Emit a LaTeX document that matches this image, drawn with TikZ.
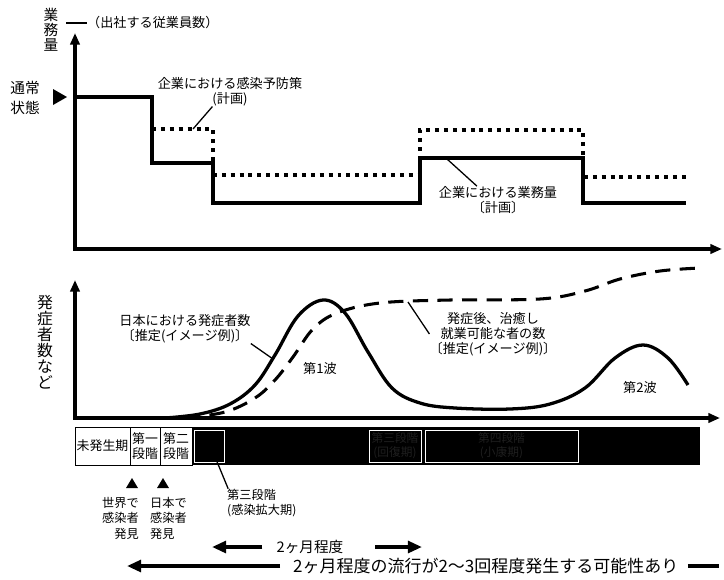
\documentclass[tikz,border=0pt]{standalone}
\usepackage{fontspec}
\setmainfont{Noto Sans CJK JP}
\usetikzlibrary{arrows.meta}
\tikzset{axisline/.style = {line width=3pt, line join=miter, {Triangle[length=10pt,width=8pt]}-{Triangle[length=10pt,width=8pt]}},
         planline/.style = {line width=3.4pt, line join=miter},
         guardline/.style = {line width=2.8pt, dash pattern=on 3.4pt off 4.2pt},
         casecurve/.style = {line width=2.8pt},
         backcurve/.style = {line width=2.6pt, dash pattern=on 13pt off 8pt},
         leader/.style = {line width=1.1pt},
         lbl/.style = {inner sep=0pt, font=\fontsize{11.2}{12.8}\selectfont, align=center},
         small/.style = {inner sep=0pt, font=\fontsize{10.4}{13.2}\selectfont},
         cell/.style = {draw, line width=0.8pt, fill=white, inner sep=0pt, minimum height=1.14cm, align=center, font=\fontsize{11}{12.5}\selectfont},
         darkcell/.style = {draw=white, line width=0.6pt, fill=black, inner sep=0pt, minimum height=0.96cm, align=center, text=white!12!black, font=\fontsize{10}{12}\selectfont},
         spanarrow/.style = {line width=3pt, -{Triangle[length=12pt,width=10pt]}}}

\begin{document}
\begin{tikzpicture}[x=0.03cm,y=-0.03cm]
  \useasboundingbox (0,0) rectangle (724,579);

  % upper graph
  \draw[axisline] (75,33) -- (75,249) -- (722,249);
  \node[lbl, font=\fontsize{12.5}{12.8}\selectfont] (ylab) at (51,30) {業\\務\\量};
  \node[lbl, anchor=west] (ynote) at (87,23) {（出社する従業員数）};
  \coordinate (ytick) at (66,23);
  \draw[leader] (ytick) -- (ynote.west);
  \node[lbl, font=\fontsize{12.5}{17}\selectfont] (normal) at (25,98) {通常\\状態};
  \fill (53,89) -- (53,105) -- (67,97) -- cycle;

  \draw[guardline] (152,129) -- (213,129) -- (213,175) -- (420,175) -- (420,130) -- (583,130) -- (583,177) -- (686,177);
  \draw[planline] (75,97) -- (152,97) -- (152,163) -- (213,163) -- (213,203) -- (420,203) -- (420,158) -- (583,158) -- (583,203) -- (686,203);

  \node[lbl] (prev) at (230,92) {企業における感染予防策\\(計画)};
  \coordinate (prevtip) at (193,129);
  \draw[leader] ([xshift=-15pt]prev.south) -- (prevtip);
  \node[lbl] (work) at (498,200) {企業における業務量\\〔計画〕};
  \coordinate (worktip) at (447,159);
  \draw[leader] ([xshift=-18pt]work.north) -- (worktip);

  % lower graph
  \draw[axisline] (75,280) -- (75,418) -- (720,418);
  \node[lbl, font=\fontsize{13.5}{13.7}\selectfont] (ylow) at (45,342) {発\\症\\者\\数\\な\\ど};

  \draw[casecurve] plot[smooth, tension=0.6] coordinates {(165,418) (200,414) (230,404) (255,385) (275,355) (298,316) (323,300) (345,313) (368,352) (392,388) (420,403) (455,408) (510,409) (550,404) (585,388) (615,358) (643,345) (668,358) (688,385)};
  \draw[backcurve] plot[smooth, tension=0.6] coordinates {(185,418) (225,412) (255,398) (275,380) (293,357) (313,329) (337,313) (380,303) (450,300) (540,299) (585,291) (620,279) (660,271) (700,268)};

  \node[lbl] (cases) at (185,329) {日本における発症者数\\〔推定(イメージ例)〕};
  \coordinate (casestip) at (273,359);
  \draw[leader] (cases.south east) -- (casestip);
  \node[lbl] (wave1) at (320,368) {第1波};
  \node[lbl] (wave2) at (640,387) {第2波};
  \node[lbl] (back) at (493,334) {発症後、治癒し\\就業可能な者の数\\〔推定(イメージ例)〕};
  \coordinate (backtip) at (408,302);
  \draw[leader] (back.west) -- (backtip);

  % phases
  \fill (192,427) rectangle (700,465);
  \node[cell, minimum width=1.65cm] (pre) at (102.5,446) {未発生期};
  \node[cell, minimum width=0.9cm] (ph1) at (145,446) {第一\\段階};
  \node[cell, minimum width=0.96cm] (ph2) at (176,446) {第二\\段階};
  \node[darkcell, minimum width=0.9cm] (ph3) at (209,446) {};
  \node[darkcell, minimum width=1.56cm] (ph3b) at (395,446) {第三段階\\(回復期)};
  \node[darkcell, minimum width=4.59cm] (ph4) at (501.5,446) {第四段階\\(小康期)};

  \fill (126,488) -- (138,488) -- (132,478) -- cycle;
  \fill (157,488) -- (169,488) -- (163,478) -- cycle;
  \node[small, align=right, anchor=east] (world) at (139,518) {世界で\\感染者\\発見};
  \node[small, align=left, anchor=west] (japan) at (150,518) {日本で\\感染者\\発見};
  \node[small, align=left, anchor=west] (third) at (227,503) {第三段階\\(感染拡大期)};
  \coordinate (thirdtip) at (213,452);
  \draw[leader] ([xshift=1pt]third.north west) -- (thirdtip);

  % durations
  \node[lbl, font=\fontsize{12.5}{14}\selectfont] (two) at (310,547) {2ヶ月程度};
  \coordinate (twoleft) at (212,547);
  \coordinate (tworight) at (422,547);
  \draw[spanarrow] ([xshift=-12pt]two.west) -- (twoleft);
  \draw[spanarrow] ([xshift=27pt]two.east) -- (tworight);
  \node[lbl, font=\fontsize{14.5}{16}\selectfont, anchor=west] (recur) at (293,566) {2ヶ月程度の流行が2〜3回程度発生する可能性あり};
  \coordinate (recurleft) at (127,566);
  \coordinate (recurend) at (719,566);
  \draw[spanarrow] ([xshift=-11pt]recur.west) -- (recurleft);
  \draw[line width=3pt] ([xshift=8pt]recur.east) -- (recurend);
\end{tikzpicture}
\end{document}
